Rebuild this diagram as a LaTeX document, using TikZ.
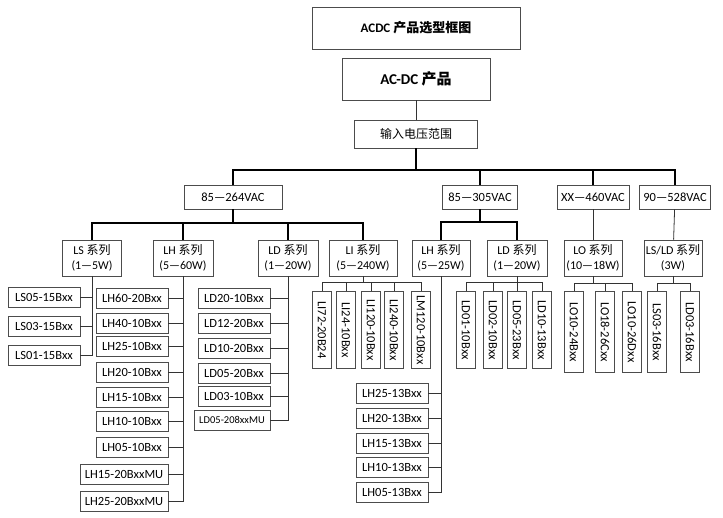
\documentclass[tikz,border=0pt]{standalone}
\usepackage{fontspec}
\setmainfont{Carlito}
\newfontfamily\cjk{Noto Sans CJK SC}
\usetikzlibrary{calc}

\begin{document}
\begin{tikzpicture}[
		x=1pt,y=-1pt,
		box/.style={draw=black!70,thick,inner sep=1pt,align=center,
			font=\fontsize{12.5}{14}\selectfont},
		item/.style={box,minimum width=72,minimum height=20},
		vitem/.style={box,minimum width=77,minimum height=19,rotate=-90},
		volt/.style={box,minimum height=24},
		series/.style={box,minimum height=36,font=\fontsize{12}{15}\selectfont},
		link/.style={thick,black!80},
		bus/.style={line width=1.6pt}
	]
	\useasboundingbox (0,0) rectangle (723,517);
	% title
	\node[box,minimum width=208,minimum height=42,font=\bfseries\fontsize{13}{15}\selectfont] (title) at (416,28) {ACDC {\cjk 产品选型框图}};
	\node[box,minimum width=148,minimum height=42,font=\bfseries\fontsize{15}{17}\selectfont] (acdc) at (416,79) {AC-DC {\cjk 产品}};
	\node[box,minimum width=123,minimum height=28,font=\cjk\fontsize{12}{14}\selectfont] (input) at (416,134) {输入电压范围};
	% voltage ranges
	\node[volt,minimum width=98] (v264) at (233,197) {85—264VAC};
	\node[volt,minimum width=75] (v305) at (480,197) {85—305VAC};
	\node[volt,minimum width=72] (v460) at (593,197) {XX—460VAC};
	\node[volt,minimum width=71] (v528) at (675,197) {90—528VAC};
	\draw[link] (acdc) -- (input);
	\draw[bus] (input.south) -- (416,170) coordinate (split);
	\draw[bus] (v264.north) |- (split) -| (v528.north);
	\draw[bus] (v305.north) |- (split);
	\draw[bus] (v460.north) -- (v460.north |- split);
	% series
	\node[series,minimum width=59] (LS)   at (92,258)  {LS {\cjk 系列}\\(1—5W)};
	\node[series,minimum width=60] (LH)   at (183,258) {LH {\cjk 系列}\\(5—60W)};
	\node[series,minimum width=60] (LD)   at (288,258) {LD {\cjk 系列}\\(1—20W)};
	\node[series,minimum width=68] (LI)   at (363,258) {LI {\cjk 系列}\\(5—240W)};
	\node[series,minimum width=58] (LHb)  at (441,258) {LH {\cjk 系列}\\(5—25W)};
	\node[series,minimum width=60] (LDb)  at (517,258) {LD {\cjk 系列}\\(1—20W)};
	\node[series,minimum width=58] (LO)   at (593,258) {LO {\cjk 系列}\\(10—18W)};
	\node[series,minimum width=58] (LSLD) at (673,258) {LS/LD {\cjk 系列}\\(3W)};
	\draw[bus] (LS.north) |- (v264.south |- 0,223) coordinate (b264) -| (LI.north);
	\draw[bus] (LH.north) -- (LH.north |- b264);
	\draw[bus] (LD.north) -- (LD.north |- b264);
	\draw[bus] (v264) -- (b264);
	\draw[bus] (LHb.north) |- (0,222 -| v305.south) coordinate (b305) -| (LDb.north);
	\draw[bus] (v305) -- (b305);
	\draw[link] (v460) -- (LO);
	\draw[link] (v528) -- (LSLD);
	% horizontal item lists
	\foreach \name/\y [count=\i] in {LS05-15Bxx/297,LS03-15Bxx/326,LS01-15Bxx/355}
		\node[item] (ls\i) at (44,\y) {\name};
	\foreach \name/\y [count=\i] in {LH60-20Bxx/298,LH40-10Bxx/323,LH25-10Bxx/346,LH20-10Bxx/372,
			LH15-10Bxx/397,LH10-10Bxx/421,LH05-10Bxx/447}
		\node[item] (lh\i) at (132,\y) {\name};
	\node[item,minimum width=88] (lh8) at (124,474) {LH15-20BxxMU};
	\node[item,minimum width=88] (lh9) at (124,501) {LH25-20BxxMU};
	\foreach \name/\y [count=\i] in {LD20-10Bxx/298,LD12-20Bxx/323,LD10-20Bxx/348,LD05-20Bxx/373,LD03-10Bxx/396}
		\node[item] (ld\i) at (234,\y) {\name};
	\node[item,minimum width=76,font=\fontsize{10.5}{12}\selectfont] (ld6) at (232,420) {LD05-208xxMU};
	\foreach \name/\y [count=\i] in {LH25-13Bxx/393,LH20-13Bxx/418,LH15-13Bxx/443,LH10-13Bxx/467,LH05-13Bxx/492}
		\node[item] (lhb\i) at (392,\y) {\name};
	\draw[link] (LS.south) |- (ls3.east);
	\draw[link] (LH.south) |- (lh9.east);
	\draw[link] (LD.south) |- (ld6.east);
	\draw[link] (LHb.south) |- (lhb5.east);
	\foreach \i in {1,2} \draw[link] (ls\i.east) -- (ls\i.east -| LS.south);
	\foreach \i in {1,...,8} \draw[link] (lh\i.east) -- (lh\i.east -| LH.south);
	\foreach \i in {1,...,5} \draw[link] (ld\i.east) -- (ld\i.east -| LD.south);
	\foreach \i in {1,...,4} \draw[link] (lhb\i.east) -- (lhb\i.east -| LHb.south);
	% vertical item lists
	\foreach \name/\x [count=\i] in {LI72-20B24/322,LI24-10Bxx/346,LI120-10Bxx/371,LI240-10Bxx/394,LM120-10Bxx/421}
		\node[vitem] (li\i) at (\x,330) {\name};
	\foreach \name/\x [count=\i] in {LD01-10Bxx/466,LD02-10Bxx/493,LD05-23Bxx/517,LD10-13Bxx/542}
		\node[vitem] (ldb\i) at (\x,330) {\name};
	\foreach \name/\x [count=\i] in {LO10-24Bxx/574,LO18-26Cxx/605,LO10-26Dxx/632}
		\node[vitem,minimum width=81] (lo\i) at (\x,332) {\name};
	\foreach \name/\x [count=\i] in {LS03-16Bxx/657,LD03-16Bxx/690}
		\node[vitem,minimum width=81] (lsd\i) at (\x,332) {\name};
	\draw[link] (LI.south) -- (LI.south |- 0,282) coordinate (bLI);
	\draw[link] (li1.west |- bLI) -- (li5.west |- bLI);
	\foreach \i in {1,...,5} \draw[link] (li\i.west) -- (li\i.west |- bLI);
	\draw[link] (LDb.south) -- (LDb.south |- 0,282) coordinate (bLD);
	\draw[link] (ldb1.west |- bLD) -- (ldb4.west |- bLD);
	\foreach \i in {1,...,4} \draw[link] (ldb\i.west) -- (ldb\i.west |- bLD);
	\draw[link] (LO.south) -- (LO.south |- 0,283) coordinate (bLO);
	\draw[link] (lo1.west |- bLO) -- (lo3.west |- bLO);
	\foreach \i in {1,...,3} \draw[link] (lo\i.west) -- (lo\i.west |- bLO);
	\draw[link] (LSLD.south) -- (LSLD.south |- 0,283) coordinate (bLS);
	\draw[link] (lsd1.west |- bLS) -- (lsd2.west |- bLS);
	\foreach \i in {1,2} \draw[link] (lsd\i.west) -- (lsd\i.west |- bLS);
\end{tikzpicture}
\end{document}
